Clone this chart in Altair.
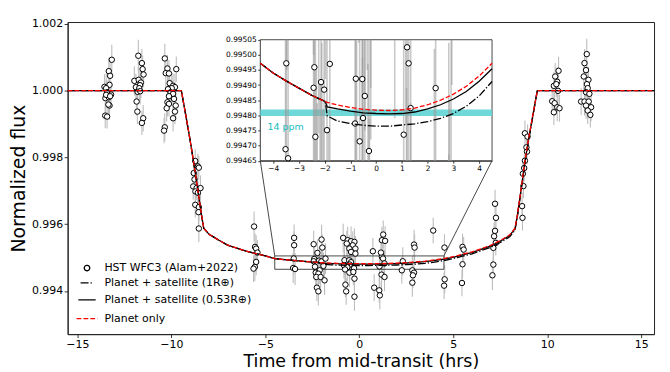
import altair as alt
import pandas as pd

# ---------------- observed light curve (HST WFC3, Alam+2022) ----------------
time_hr = [
    -13.17, -13.33, -13.26, -13.56, -13.29, -13.47, -13.42, -13.21, -13.51, -13.33, -13.47, -13.26, -13.29, -13.35, -13.52, -13.42,
    -11.76, -11.57, -11.53, -11.48, -11.97, -11.74, -11.62, -11.67, -11.89, -11.71, -11.80, -11.66, -11.85, -11.81, -11.50, -11.57,
    -10.35, -10.21, -9.74, -10.30, -10.13, -10.09, -9.91, -9.81, -9.98, -10.18, -10.04, -9.91, -10.13, -9.86, -10.21, -10.13, -10.25, -9.77, -9.81, -9.91, -10.35, -10.39,
    -8.73, -8.59, -8.81, -8.54, -8.77, -8.84, -8.66, -8.45, -8.72, -8.59, -8.73, -8.54, -8.56, -8.54,
    -5.60, -5.55, -5.49, -5.42, -5.49, -5.56, -5.63,
    -3.47, -3.47, -3.49, -3.52, -3.42,
    -2.40, -2.43, -2.14, -2.02, -1.80, -1.91, -2.36, -2.43, -2.01, -1.97, -2.23, -2.11, -2.32, -2.18, -2.29, -2.06, -1.85, -2.26, -2.18,
    -0.79, -0.54, -0.44, -0.51, -0.82, -0.64, -0.28, -0.76, -0.86, -0.62, -0.44, -0.67, -0.26, -0.35, -0.53, -0.21, -0.44, -0.21, -0.53, -0.32, -0.26, -0.74, -0.70, -0.26,
    1.20, 1.26, 1.34, 1.07, 0.72, 1.27, 1.20, 1.37, 1.15, 1.18, 1.34, 0.79, 1.06, 1.09,
    2.31, 2.26, 2.91, 2.94, 2.82, 2.91, 2.85, 2.82,
    3.93,
    4.53, 4.54, 4.51,
    5.49, 5.55, 5.49, 5.46,
    7.22, 7.27, 7.22, 7.17, 7.26, 7.13, 7.13, 7.08,
    8.81, 8.95, 8.89, 8.92, 8.81, 8.77, 8.70, 8.73, 8.66, 8.68,
    10.60, 10.42, 10.53, 10.35, 10.48, 10.57, 10.26, 10.39, 10.53, 10.65, 10.35,
    12.10, 11.98, 12.06, 11.94, 12.19, 12.11, 12.15, 12.06, 12.24, 11.80, 11.98, 12.20, 12.06, 12.33, 12.15, 12.29,
]
flux = [
    1.00092, 1.00058, 1.00044, 1.00011, 1.00017, 1.00007, 0.99995, 0.99988, 0.99977, 0.99980, 0.99987, 0.99983, 0.99955, 0.99958, 0.99925, 0.99922,
    1.00104, 1.00082, 1.00064, 1.00048, 1.00029, 1.00032, 1.00024, 1.00016, 1.00010, 1.00007, 0.99996, 0.99998, 0.99967, 0.99937, 0.99917, 0.99903,
    1.00096, 1.00066, 1.00064, 1.00052, 1.00051, 1.00022, 1.00014, 1.00010, 1.00007, 1.00004, 0.99995, 0.99990, 0.99983, 0.99975, 0.99965, 0.99960, 0.99947, 0.99955, 0.99937, 0.99917, 0.99890, 0.99880,
    0.99789, 0.99773, 0.99753, 0.99769, 0.99734, 0.99713, 0.99708, 0.99708, 0.99698, 0.99694, 0.99658, 0.99651, 0.99636, 0.99587,
    0.99593, 0.99532, 0.99527, 0.99515, 0.99487, 0.99472, 0.99467,
    0.99559, 0.99537, 0.994972, 0.994688, 0.994658,
    0.994959, 0.994891, 0.994910, 0.994885, 0.994970, 0.994751, 0.994729, 0.99540, 0.99554, 0.99530, 0.99514, 0.99462, 0.99455, 0.99452, 0.99442, 0.99442, 0.99432, 0.99410, 0.99399,
    0.994921, 0.994920, 0.994864, 0.994791, 0.994773, 0.994714, 0.994682, 0.994646, 0.99559, 0.99552, 0.99549, 0.99542, 0.99547, 0.99537, 0.99527, 0.99527, 0.99517, 0.99512, 0.99455, 0.99457, 0.99437, 0.99419, 0.99399, 0.99383,
    0.995025, 0.994972, 0.994824, 0.994736, 0.99519, 0.99569, 0.99552, 0.99550, 0.99515, 0.99449, 0.99442, 0.99410, 0.99402, 0.99387,
    0.994890, 0.99462, 0.99539, 0.99530, 0.99462, 0.99455, 0.99447, 0.99425,
    0.99581,
    0.99530, 0.99435, 0.99416,
    0.99532, 0.99524, 0.99480, 0.99424,
    0.99661, 0.99619, 0.99580, 0.99564, 0.99544, 0.99529, 0.99479, 0.99447,
    0.99872, 0.99862, 0.99830, 0.99817, 0.99790, 0.99768, 0.99751, 0.99714, 0.99654, 0.99619,
    1.00059, 1.00042, 1.00026, 1.00014, 1.00019, 0.99999, 0.99968, 0.99962, 0.99950, 0.99947, 0.99935,
    1.00109, 1.00082, 1.00061, 1.00042, 1.00032, 1.00019, 1.00007, 0.99995, 0.99990, 0.99967, 0.99967, 0.99967, 0.99955, 0.99950, 0.99940, 0.99927,
]
flux_err = [
    0.00045, 0.00040, 0.00042, 0.00038, 0.00040, 0.00044, 0.00036, 0.00040, 0.00042, 0.00038, 0.00040, 0.00036, 0.00042, 0.00040, 0.00038, 0.00036,
    0.00048, 0.00042, 0.00040, 0.00038, 0.00044, 0.00040, 0.00046, 0.00042, 0.00040, 0.00038, 0.00044, 0.00040, 0.00042, 0.00038, 0.00040, 0.00036,
    0.00044, 0.00040, 0.00038, 0.00042, 0.00040, 0.00044, 0.00038, 0.00040, 0.00042, 0.00040, 0.00038, 0.00040, 0.00036, 0.00040, 0.00042, 0.00038, 0.00040, 0.00044, 0.00038, 0.00040, 0.00042, 0.00038,
    0.00035, 0.00038, 0.00040, 0.00036, 0.00038, 0.00040, 0.00035, 0.00038, 0.00040, 0.00036, 0.00038, 0.00040, 0.00036, 0.00040,
    0.00045, 0.00040, 0.00040, 0.00038, 0.00040, 0.00042, 0.00040,
    0.00040, 0.00042, 0.00050, 0.00045, 0.00048,
    0.00045, 0.00042, 0.00040, 0.00044, 0.00046, 0.00040, 0.00042, 0.00040, 0.00044, 0.00038, 0.00040, 0.00042, 0.00040, 0.00038, 0.00042, 0.00040, 0.00044, 0.00040, 0.00042,
    0.00044, 0.00042, 0.00040, 0.00046, 0.00040, 0.00042, 0.00044, 0.00040, 0.00042, 0.00040, 0.00044, 0.00038, 0.00040, 0.00042, 0.00040, 0.00038, 0.00042, 0.00040, 0.00044, 0.00040, 0.00042, 0.00038, 0.00040, 0.00042,
    0.00044, 0.00042, 0.00040, 0.00045, 0.00040, 0.00042, 0.00040, 0.00044, 0.00038, 0.00040, 0.00042, 0.00040, 0.00038, 0.00042,
    0.00042, 0.00040, 0.00044, 0.00040, 0.00042, 0.00040, 0.00038, 0.00042,
    0.00038,
    0.00040, 0.00042, 0.00040,
    0.00040, 0.00038, 0.00042, 0.00040,
    0.00042, 0.00040, 0.00044, 0.00040, 0.00038, 0.00042, 0.00040, 0.00044,
    0.00038, 0.00036, 0.00040, 0.00038, 0.00036, 0.00040, 0.00038, 0.00036, 0.00040, 0.00038,
    0.00042, 0.00040, 0.00044, 0.00040, 0.00038, 0.00042, 0.00040, 0.00038, 0.00042, 0.00040, 0.00038,
    0.00046, 0.00042, 0.00040, 0.00044, 0.00040, 0.00038, 0.00042, 0.00040, 0.00044, 0.00040, 0.00042, 0.00038, 0.00040, 0.00042, 0.00040, 0.00038,
]

# ---------------- model light curves ----------------
model_t = [-15.52, -9.47, -9.2, -9.0, -8.8, -8.6, -8.4, -8.28, -8.0, -7.5, -7.0, -6.0, -5.0,
           -4.5, -4.0, -3.5, -3.0, -2.5, -1.98, -1.9, -1.5, -1.0, -0.5, 0.0, 0.5, 1.0, 1.5,
           2.0, 2.5, 3.0, 3.5, 4.0, 4.5, 5.0, 6.0, 7.0, 7.5, 8.0, 8.28, 8.4, 8.6, 8.8, 9.0,
           9.2, 9.47, 15.68]
planet_only = [1.0, 1.0, 0.99915, 0.99850, 0.99780, 0.99705, 0.99628, 0.99588, 0.99570, 0.99553, 0.99537, 0.99519, 0.99505,
               0.994972, 0.994940, 0.994914, 0.994890, 0.994866, 0.994846, 0.994843, 0.994834, 0.994826, 0.994820, 0.994817, 0.994816, 0.994818, 0.994824,
               0.994835, 0.994850, 0.994870, 0.994896, 0.994930, 0.994972, 0.99503, 0.99517, 0.99537, 0.99551, 0.99568, 0.99588, 0.99625, 0.99703, 0.99785, 0.99855,
               0.99918, 1.0, 1.0]
planet_sat_053 = [1.0, 1.0, 0.99915, 0.99850, 0.99780, 0.99705, 0.99628, 0.99588, 0.99570, 0.99553, 0.99537, 0.99519, 0.99505,
                  0.994972, 0.994940, 0.994914, 0.994890, 0.994866, 0.994846, 0.994828, 0.994821, 0.994814, 0.994808, 0.994806, 0.994805, 0.994806, 0.994811,
                  0.994821, 0.994835, 0.994854, 0.994879, 0.994913, 0.994954, 0.995012, 0.995152, 0.995352, 0.995492, 0.995662, 0.995862, 0.99623, 0.99701, 0.99783, 0.99853,
                  0.99916, 1.0, 1.0]
planet_sat_1 = [1.0, 1.0, 0.99915, 0.99850, 0.99780, 0.99705, 0.99628, 0.99588, 0.99570, 0.99553, 0.99537, 0.99519, 0.99505,
                0.994972, 0.994940, 0.994914, 0.994890, 0.994866, 0.994846, 0.994798, 0.994781, 0.994773, 0.994767, 0.994764, 0.994764, 0.994768, 0.994772,
                0.994779, 0.994790, 0.994806, 0.994830, 0.994864, 0.994912, 0.994972, 0.995112, 0.995312, 0.995452, 0.995622, 0.995822, 0.99619, 0.99697, 0.99779, 0.99849,
                0.99912, 1.0, 1.0]

SERIES = ["HST WFC3 (Alam+2022)", "Planet + satellite (1R\u2295)", "Planet + satellite (0.53R\u2295)", "Planet only"]
SERIES_COLORS = ["black", "black", "black", "red"]

x_ticks = [-15, -10, -5, 0, 5, 10, 15]
y_ticks = [0.994, 0.996, 0.998, 1.000, 1.002]
inset_x_ticks = [-4, -3, -2, -1, 0, 1, 2, 3, 4]
inset_y_ticks = [0.99465, 0.99470, 0.99475, 0.99480, 0.99485, 0.99490, 0.99495, 0.99500, 0.99505]
band_flux = [0.994798, 0.994819]
band_label = "14 ppm"
band_label_pos = [-4.22, 0.99476]

# axes limits
MAIN_X = [-15.52, 15.68]
MAIN_Y = [0.99271, 1.00205]
ZOOM_X = [-4.5, 4.5]
ZOOM_Y = [0.99465, 0.99505]
INSET_AT_X = [-5.27, 7.06]      # inset box location in main-axis coordinates
INSET_AT_Y = [0.99790, 1.00152]
W, H = 590, 314

assert len(time_hr) == len(flux) == len(flux_err)
assert len(model_t) == len(planet_only) == len(planet_sat_053) == len(planet_sat_1)

# pixel range of the inset axes, derived from the main scales
ix0 = (INSET_AT_X[0] - MAIN_X[0]) / (MAIN_X[1] - MAIN_X[0]) * W
ix1 = (INSET_AT_X[1] - MAIN_X[0]) / (MAIN_X[1] - MAIN_X[0]) * W
iy_top = (MAIN_Y[1] - INSET_AT_Y[1]) / (MAIN_Y[1] - MAIN_Y[0]) * H
iy_bot = (MAIN_Y[1] - INSET_AT_Y[0]) / (MAIN_Y[1] - MAIN_Y[0]) * H

obs = pd.DataFrame({"t": time_hr, "flux": flux, "err": flux_err})
obs["series"] = SERIES[0]
obs["lo"] = obs["flux"] - obs["err"]
obs["hi"] = obs["flux"] + obs["err"]

models = pd.concat([
    pd.DataFrame({"t": model_t, "flux": vals, "series": name})
    for name, vals in [(SERIES[1], planet_sat_1), (SERIES[2], planet_sat_053), (SERIES[3], planet_only)]
], ignore_index=True)

FONT = "DejaVu Sans"

# ---------------- main axes ----------------
xs = alt.Scale(domain=MAIN_X, nice=False, zero=False)
ys = alt.Scale(domain=MAIN_Y, nice=False, zero=False)
x_axis = alt.Axis(values=x_ticks, format="d", tickSize=3.5, labelFontSize=11, titleFontSize=17.5,
                  grid=False, titlePadding=3, labelPadding=1, orient="bottom")
y_axis = alt.Axis(values=y_ticks, format=".3f", tickSize=3.5, labelFontSize=11, titleFontSize=19,
                  grid=False, titlePadding=3, labelPadding=1.5, orient="left")
XT = "Time from mid-transit (hrs)"
YT = "Normalized flux"


def mx(f):
    return alt.X(f, type="quantitative", scale=xs, axis=x_axis, title=XT)


def my(f):
    return alt.Y(f, type="quantitative", scale=ys, axis=y_axis, title=YT)


legend = alt.Legend(title=None, orient="none", legendX=8, legendY=242, labelFontSize=11, labelFont=FONT,
                    symbolStrokeWidth=1.3, rowPadding=2, labelOffset=6, padding=0)
color_scale = alt.Scale(domain=SERIES, range=SERIES_COLORS)
shape_scale = alt.Scale(domain=SERIES, range=["circle", "stroke", "stroke", "stroke"])
size_scale = alt.Scale(domain=SERIES, range=[30, 440, 440, 440])
dash_scale = alt.Scale(domain=SERIES, range=[[1, 0], [8, 2, 1.3, 2], [1, 0], [4.8, 2.1]])

err_main = alt.Chart(obs).mark_rule(color="#bdbdbd", strokeWidth=1.1).encode(
    x=mx("t"), y=my("lo"), y2="hi")

zoom_box = pd.DataFrame({"x0": [ZOOM_X[0]], "x1": [ZOOM_X[1]], "y0": [ZOOM_Y[0]], "y1": [ZOOM_Y[1]]})
box_main = alt.Chart(zoom_box).mark_rect(fillOpacity=0, stroke="#333", strokeWidth=0.9).encode(
    x=mx("x0"), x2="x1", y=my("y0"), y2="y1")

connect = pd.DataFrame({
    "xa": [ZOOM_X[0], ZOOM_X[1]], "ya": [ZOOM_Y[1], ZOOM_Y[1]],
    "xb": [INSET_AT_X[0], INSET_AT_X[1]], "yb": [INSET_AT_Y[0], INSET_AT_Y[0]],
})
conn_main = alt.Chart(connect).mark_rule(color="#333", strokeWidth=0.9).encode(
    x=mx("xa"), y=my("ya"), x2="xb", y2="yb")

pts_main = alt.Chart(obs).mark_point(filled=False, fill="white", strokeWidth=1, opacity=1).encode(
    x=mx("t"), y=my("flux"),
    color=alt.Color("series:N", scale=color_scale, legend=legend),
    shape=alt.Shape("series:N", scale=shape_scale, legend=legend),
    size=alt.Size("series:N", scale=size_scale, legend=legend),
)

lines_main = alt.Chart(models).mark_line(strokeWidth=1.3).encode(
    x=mx("t"), y=my("flux"),
    color=alt.Color("series:N", scale=color_scale, legend=legend),
    strokeDash=alt.StrokeDash("series:N", scale=dash_scale, legend=legend),
)

main = alt.layer(err_main, box_main, conn_main, pts_main, lines_main)

# ---------------- inset axes ----------------
ixs = alt.Scale(domain=ZOOM_X, range=[ix0, ix1], nice=False, zero=False, clamp=True)
iys = alt.Scale(domain=ZOOM_Y, range=[iy_bot, iy_top], nice=False, zero=False, clamp=True)
ix_axis = alt.Axis(values=inset_x_ticks, format="d", tickSize=2.5, labelFontSize=7.5, grid=False,
                   orient="bottom", offset=-(H - iy_bot), labelPadding=1, title=None)
iy_axis = alt.Axis(values=inset_y_ticks, format=".5f", tickSize=2.5, labelFontSize=7.5, grid=False,
                   orient="left", offset=-ix0, labelPadding=1.5, title=None)


def ix(f):
    return alt.X(f, type="quantitative", scale=ixs, axis=ix_axis, title=None)


def iy(f):
    return alt.Y(f, type="quantitative", scale=iys, axis=iy_axis, title=None)


bg_inset = alt.Chart(zoom_box).mark_rect(fill="white", stroke="#333", strokeWidth=0.9).encode(
    x=ix("x0"), x2="x1", y=iy("y0"), y2="y1")

band_df = pd.DataFrame({"x0": [ZOOM_X[0]], "x1": [ZOOM_X[1]], "y0": [band_flux[0]], "y1": [band_flux[1]]})
band = alt.Chart(band_df).mark_rect(color="#5fd5d5", opacity=0.9).encode(
    x=ix("x0"), x2="x1", y=iy("y0"), y2="y1")

in_x = f"datum.t >= {ZOOM_X[0]} && datum.t <= {ZOOM_X[1]}"
in_y = f"datum.flux >= {ZOOM_Y[0]} && datum.flux <= {ZOOM_Y[1]}"

err_inset = alt.Chart(obs).transform_filter(in_x).mark_rule(color="#9a9a9a", strokeWidth=1.6, opacity=0.55).encode(
    x=ix("t"), y=iy("lo"), y2="hi")
pts_inset = alt.Chart(obs).transform_filter(in_x + " && " + in_y).mark_point(
    filled=False, fill="white", stroke="black", strokeWidth=1, size=30, opacity=1).encode(
    x=ix("t"), y=iy("flux"))

mod_in = models[(models.t >= ZOOM_X[0]) & (models.t <= ZOOM_X[1])]
l1 = alt.Chart(mod_in[mod_in.series == SERIES[1]]).mark_line(color="black", strokeWidth=1.3, strokeDash=[8, 2, 1.3, 2]).encode(
    x=ix("t"), y=iy("flux"))
l2 = alt.Chart(mod_in[mod_in.series == SERIES[2]]).mark_line(color="black", strokeWidth=1.3).encode(
    x=ix("t"), y=iy("flux"))
l3 = alt.Chart(mod_in[mod_in.series == SERIES[3]]).mark_line(color="red", strokeWidth=1.3, strokeDash=[4.8, 2.1]).encode(
    x=ix("t"), y=iy("flux"))

lab_df = pd.DataFrame({"t": [band_label_pos[0]], "flux": [band_label_pos[1]], "txt": [band_label]})
lab = alt.Chart(lab_df).mark_text(align="left", baseline="middle", color="#14bcbc", fontSize=9.5, font=FONT).encode(
    x=ix("t"), y=iy("flux"), text="txt:N")

inset = alt.layer(bg_inset, band, err_inset, pts_inset, l1, l2, l3, lab)

chart = alt.layer(main, inset).resolve_scale(x="independent", y="independent").properties(
    width=W, height=H, padding={"left": 1, "top": 8, "right": 5, "bottom": 0}
).configure(font=FONT).configure_view(stroke="#222", strokeWidth=1).configure_axis(
    domainColor="#222", tickColor="#222", labelColor="black", titleColor="black",
    titleFontWeight="normal", labelFont=FONT, titleFont=FONT, domainWidth=1, tickWidth=0.9
)

chart.save("out.html", embed_options={"renderer": "svg", "actions": False})
